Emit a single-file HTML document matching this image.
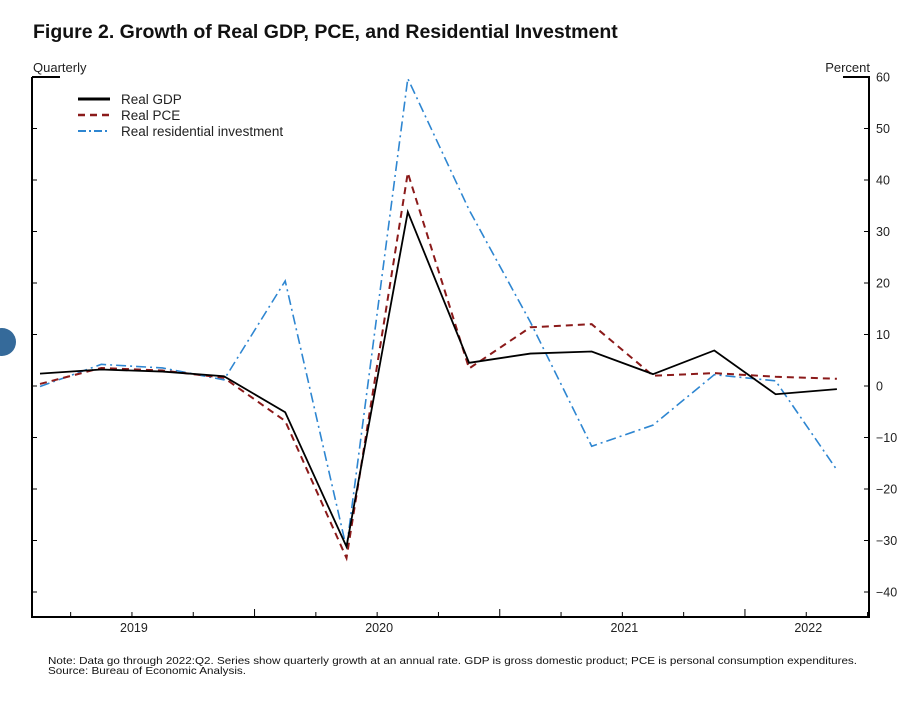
<!DOCTYPE html>
<html><head><meta charset="utf-8"><style>
body{margin:0;background:#fff;width:905px;height:706px;overflow:hidden;font-family:"Liberation Sans",Arial,sans-serif}
svg text{font-family:"Liberation Sans",Arial,sans-serif}
</style></head><body>
<svg id="c" width="905" height="706" viewBox="0 0 905 706">
<text x="33" y="38" font-size="19.5" font-weight="bold" fill="#111">Figure 2. Growth of Real GDP, PCE, and Residential Investment</text>
<text x="33" y="72" font-size="13" fill="#222">Quarterly</text>
<text x="870" y="72" font-size="13" fill="#222" text-anchor="end">Percent</text>
<circle cx="2" cy="342" r="14" fill="#356a9a"/>
<g id="axes"></g>
<g id="series"></g>
<g>
<line x1="78" y1="99" x2="110" y2="99" stroke="#000" stroke-width="3"/>
<text x="121" y="104" font-size="13.5" fill="#222">Real GDP</text>
<line x1="78" y1="115" x2="110" y2="115" stroke="#8b1a1a" stroke-width="2.5" stroke-dasharray="7,5"/>
<text x="121" y="120" font-size="13.5" fill="#222">Real PCE</text>
<line x1="78" y1="131" x2="110" y2="131" stroke="#2e86d1" stroke-width="2" stroke-dasharray="8,3,2,3"/>
<text x="121" y="136" font-size="13.5" fill="#222">Real residential investment</text>
</g>
<text x="48" y="664" font-size="10.5" fill="#111" textLength="809" lengthAdjust="spacingAndGlyphs">Note: Data go through 2022:Q2. Series show quarterly growth at an annual rate. GDP is gross domestic product; PCE is personal consumption expenditures.</text>
<text x="48" y="674" font-size="10.5" fill="#111" textLength="198" lengthAdjust="spacingAndGlyphs">Source: Bureau of Economic Analysis.</text>
</svg>
<script>
const years=["2019","2020","2021","2022"];
const yTicks=[60,50,40,30,20,10,0,-10,-20,-30,-40];
const gdp=[2.4,3.2,2.8,1.9,-5.1,-31.2,33.8,4.5,6.3,6.7,2.3,6.9,-1.6,-0.6];
const pce=[0.4,3.5,3.0,1.6,-6.8,-33.4,41.4,3.4,11.4,12.0,2.0,2.5,1.8,1.4];
const resid=[-0.1,4.2,3.5,1.2,20.4,-31.5,59.7,34.2,12.4,-11.7,-7.6,2.2,1.0,-16.3];
const NS="http://www.w3.org/2000/svg";
const X=i=>40+i*61.3;
const Y=v=>386-v*5.15;
function mk(t,a,p){const e=document.createElementNS(NS,t);for(const k in a)e.setAttribute(k,a[k]);p.appendChild(e);return e;}
const ax=document.getElementById('axes');
let e=mk('path',{d:'M32,77 H60 M32,77 V617 H869 V77 H843',fill:'none',stroke:'#000','stroke-width':2},ax);

yTicks.forEach(v=>{
 let t=mk('path',{d:`M32,${Y(v)}h5 M869,${Y(v)}h-5`,stroke:'#000','stroke-width':1},ax);
 
 let l=mk('text',{x:876,y:Y(v)+4.5,'font-size':12.5,fill:'#222'},ax);l.textContent=v<0?'\u2212'+(-v):v;
 
});
for(let k=0;k<14;k++){
 const x=X(k)+30.65, h=(k%4==3)?8:5;
 let t=mk('line',{x1:x,x2:x,y1:617,y2:617-h,stroke:'#000','stroke-width':1},ax);
 
}
const nQ=gdp.length;
years.forEach((y,i)=>{
 const first=i*4, last=Math.min(i*4+3,nQ-1);
 let l=mk('text',{x:X((first+last)/2)+2,y:632,'font-size':12.5,'text-anchor':'middle',fill:'#222'},ax);l.textContent=y;
 
});
const sg=document.getElementById('series');
function line(d,col,w,dash,name){
 let p=mk('polyline',{points:d.map((v,i)=>X(i)+','+Y(v)).join(' '),fill:'none',stroke:col,'stroke-width':w,'stroke-dasharray':dash,'stroke-linejoin':'miter'},sg);
 
}
line(resid,'#2e86d1',1.6,'10,4,2,4','resid-line');
line(pce,'#8b1a1a',2,'7,5','pce-line');
line(gdp,'#000',1.8,'none','gdp-line');
</script>
</body></html>
